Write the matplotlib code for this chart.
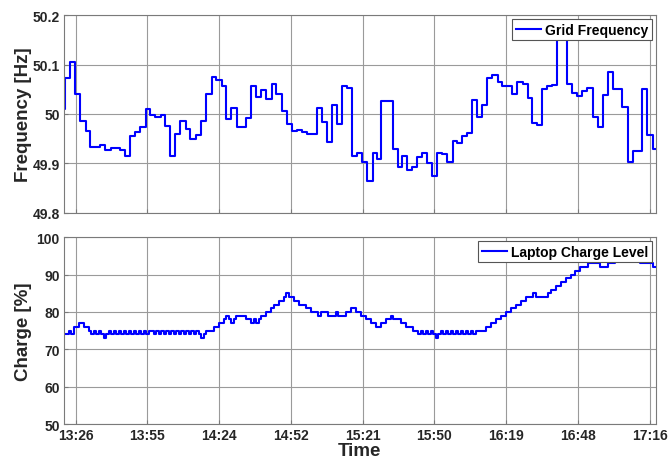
import matplotlib
matplotlib.use("Agg")
import matplotlib.pyplot as plt
import numpy as np

plt.rcParams["font.family"] = ["Liberation Sans", "DejaVu Sans"]
plt.rcParams["font.weight"] = "bold"

TEXT = "#262626"
BLUE = "#0000ff"

# time axis: minutes after 13:26
TICK_MIN = [0, 28.75, 57.5, 86.25, 115, 143.75, 172.5, 201.25, 230]
TICK_LABELS = ["13:26", "13:55", "14:24", "14:52", "15:21", "15:50", "16:19", "16:48", "17:16"]
X_RANGE = (-4.68, 232.5)

# grid frequency, step changes (minute, Hz)
FREQ_T = [
    -4.68, -4.41, -2.41, -0.27, 1.60, 4.01, 5.88, 9.63, 11.90, 14.04,
    17.91, 19.92, 21.79, 23.80, 25.67, 28.34, 29.81, 31.95, 34.09, 35.96,
    37.97, 39.97, 41.84, 44.12, 45.72, 48.13, 50.13, 52.41, 54.81, 56.42,
    58.56, 60.43, 62.43, 64.84, 68.18, 70.45, 72.19, 74.20, 76.47, 78.48,
    80.48, 82.49, 84.49, 86.50, 88.50, 90.51, 92.51, 96.52, 98.53, 100.53,
    102.54, 104.55, 106.55, 108.56, 110.56, 112.57, 114.57, 116.58, 118.98, 120.59,
    122.19, 127.27, 129.01, 130.61, 132.62, 134.63, 136.90, 138.64, 140.64, 142.65,
    144.65, 146.93, 148.93, 151.34, 152.94, 154.95, 156.95, 158.96, 160.70, 162.70,
    164.71, 166.98, 169.12, 170.99, 175.00, 177.01, 179.41, 181.15, 183.02, 185.03,
    187.03, 189.04, 191.04, 193.05, 197.06, 199.06, 201.07, 203.07, 205.08, 207.49,
    209.49, 211.23, 213.50, 215.51, 219.12, 221.26, 223.53, 227.14, 229.14, 231.55,
    232.49,
]
FREQ_V = [
    50.010, 50.072, 50.105, 50.040, 49.985, 49.965, 49.934, 49.938, 49.928, 49.932,
    49.928, 49.915, 49.955, 49.963, 49.973, 50.010, 49.997, 49.993, 49.997, 49.975,
    49.916, 49.960, 49.986, 49.970, 49.950, 49.958, 49.985, 50.040, 50.074, 50.069,
    50.057, 49.989, 50.012, 49.973, 49.992, 50.057, 50.034, 50.049, 50.031, 50.060,
    50.041, 50.006, 49.979, 49.965, 49.968, 49.963, 49.960, 50.012, 49.983, 49.943,
    50.019, 49.979, 50.056, 50.053, 49.915, 49.922, 49.902, 49.865, 49.922, 49.910,
    50.026, 49.930, 49.893, 49.915, 49.887, 49.893, 49.913, 49.922, 49.900, 49.875,
    49.922, 49.920, 49.903, 49.945, 49.941, 49.955, 49.961, 50.029, 49.993, 50.018,
    50.072, 50.078, 50.064, 50.056, 50.040, 50.065, 50.060, 50.032, 49.981, 49.978,
    50.051, 50.056, 50.058, 50.170, 50.061, 50.042, 50.036, 50.046, 50.053, 49.993,
    49.973, 50.038, 50.084, 50.050, 50.015, 49.902, 49.926, 50.050, 49.957, 49.929,
    49.929,
]

# laptop charge level, one reading per minute from CHARGE_START
CHARGE_START = -4.7
CHARGE_STEP = 1.0
CHARGE = [
    74, 74, 75, 74, 76, 76, 77, 77, 76, 76, 75,
    74, 75, 74, 75, 74, 73, 74, 75, 74, 75, 74, 75, 74, 75, 74, 75, 74, 75, 74, 75, 74, 75, 74,
    75, 75,
    74, 75, 74, 75, 74, 75, 74, 75, 74, 75, 74, 75, 74, 75, 74, 75, 74, 75, 74, 73, 74, 75,
    75, 75, 76, 76, 77, 77, 78, 79, 78, 77, 78, 79, 79, 79, 79, 78, 78, 77, 78, 77, 78,
    79, 79, 80, 80, 81, 82, 82, 83, 83, 84, 85, 84, 84, 83, 83, 82, 82, 82, 81, 81,
    80, 80, 80, 79, 80, 80, 80, 79, 79, 79, 80, 79, 79, 79, 80, 80, 81, 81, 80, 80,
    79, 79, 78, 78, 77, 77, 76, 76, 77, 77, 78, 78, 79, 78, 78, 78, 77, 77, 76, 76, 76,
    75, 75,
    74, 75, 74, 75, 74, 75, 74, 73, 74, 75, 74, 75, 74, 75, 74, 75, 74, 75, 74, 75, 74, 75, 74,
    75, 75, 75, 75, 76, 76, 77, 77, 78, 78, 79, 79, 80, 80, 81, 81, 82, 82, 83, 83,
    84, 84, 84, 85, 84, 84, 84, 84, 84, 85, 86, 86, 87, 87, 88, 88, 89, 89, 90, 90,
    91, 91, 92, 92, 92, 93, 93, 93, 93, 93, 92, 92, 92, 93, 93, 93,
    94, 94, 94, 94, 94, 94, 94, 94, 94, 94, 93, 93, 93, 93, 93, 92, 92,
]


def style_axes(ax):
    ax.set_xlim(*X_RANGE)
    ax.set_xticks(TICK_MIN)
    ax.grid(True, color="#9a9a9a", linewidth=0.8)
    ax.set_axisbelow(True)
    for s in ax.spines.values():
        s.set_color("#7a7a7a")
        s.set_linewidth(0.8)
    ax.tick_params(direction="in", length=3, color="#7a7a7a", labelcolor=TEXT,
                   labelsize=10, pad=3, top=False, right=False)


def add_legend(ax):
    leg = ax.legend(loc="upper right", fancybox=False, framealpha=1, edgecolor="#555555",
                    borderaxespad=0.3, handlelength=1.8, handletextpad=0.3,
                    borderpad=0.25, prop={"size": 10, "weight": "bold"})
    leg.get_frame().set_linewidth(0.8)
    for t in leg.get_texts():
        t.set_color("black")


fig = plt.figure(figsize=(6.68, 4.6), dpi=100)
ax1 = fig.add_axes([0.0958, 0.535, 0.886, 0.430])
ax2 = fig.add_axes([0.0958, 0.076, 0.886, 0.406])

ax1.step(FREQ_T, FREQ_V, where="post", color=BLUE, linewidth=1.5, label="Grid Frequency")
style_axes(ax1)
ax1.set_ylim(49.8, 50.2)
ax1.set_yticks([49.8, 49.9, 50.0, 50.1, 50.2])
ax1.set_yticklabels(["49.8", "49.9", "50", "50.1", "50.2"])
ax1.set_xticklabels([])
ax1.set_ylabel("Frequency [Hz]", fontsize=13.5, fontweight="bold", color=TEXT)
ax1.yaxis.set_label_coords(-0.054, 0.5)
add_legend(ax1)

charge_t = CHARGE_START + CHARGE_STEP * np.arange(len(CHARGE) + 1)
charge_v = np.append(CHARGE, CHARGE[-1])
ax2.step(charge_t, charge_v, where="post", color=BLUE, linewidth=1.5, label="Laptop Charge Level")
style_axes(ax2)
ax2.set_ylim(50, 100)
ax2.set_yticks([50, 60, 70, 80, 90, 100])
ax2.set_xticklabels(TICK_LABELS)
ax2.set_ylabel("Charge [%]", fontsize=13.5, fontweight="bold", color=TEXT)
ax2.yaxis.set_label_coords(-0.054, 0.5)
ax2.set_xlabel("Time", fontsize=13.5, fontweight="bold", color=TEXT, labelpad=0)
add_legend(ax2)

fig.savefig("out.png", dpi=100)
